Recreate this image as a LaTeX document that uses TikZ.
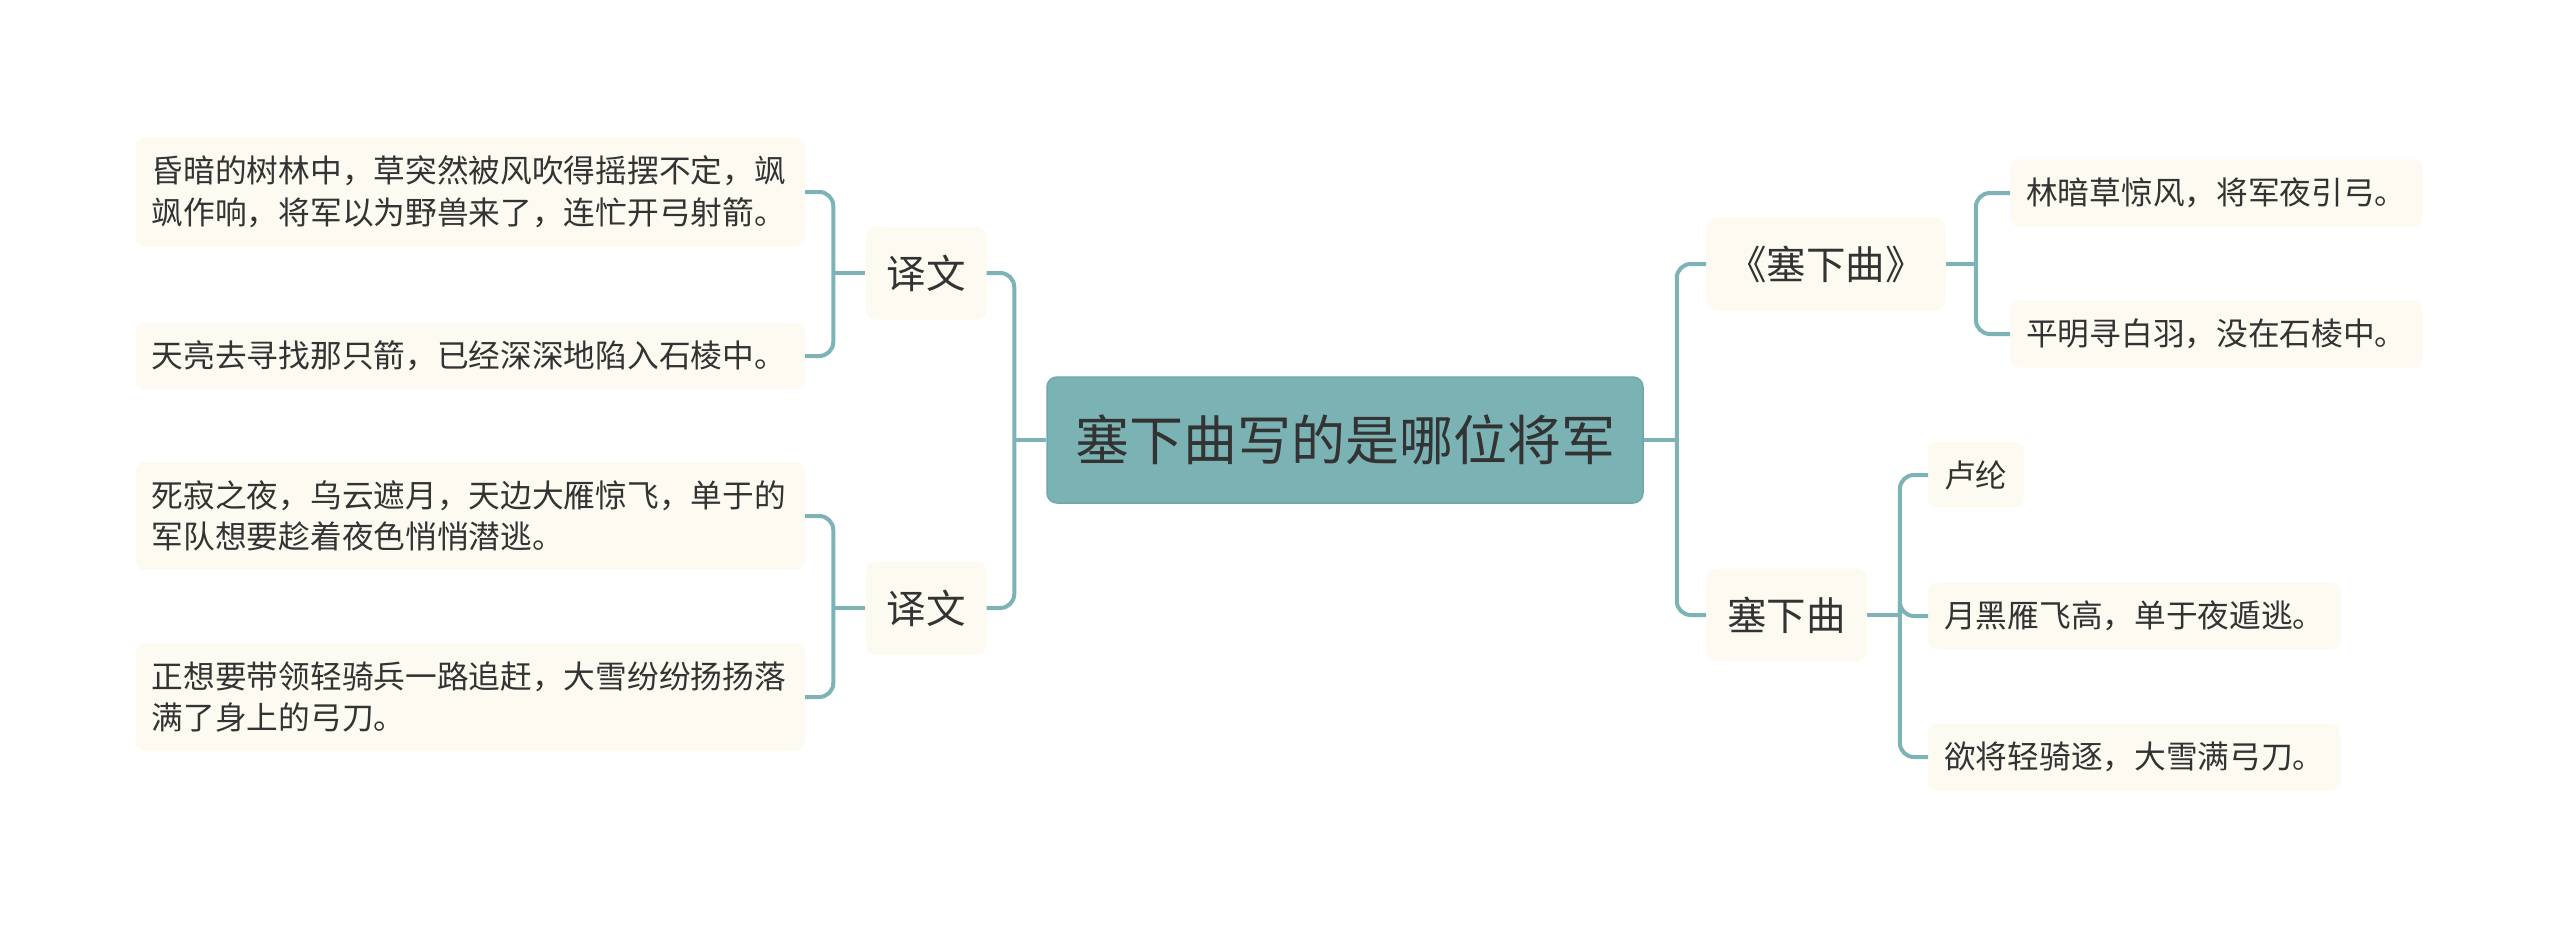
\documentclass[tikz,border=0pt]{standalone}
\usepackage{fontspec}
\setmainfont{Noto Sans CJK SC}
\usetikzlibrary{calc}
\definecolor{linec}{HTML}{7DB3B6}
\definecolor{centc}{HTML}{7BB3B5}
\definecolor{centb}{HTML}{6FA8AA}
\definecolor{leafc}{HTML}{FDFBF1}
\definecolor{txtc}{HTML}{333333}
\begin{document}
\begin{tikzpicture}[x=1pt,y=-1pt,
  centerbox/.style={rounded corners=10pt, fill=centc, draw=centb, line width=1.5pt,
    font=\fontsize{54}{60}\selectfont, text=txtc, minimum height=126pt, inner xsep=28pt},
  midbox/.style={rounded corners=10pt, fill=leafc, font=\fontsize{39.5}{46}\selectfont,
    text=txtc, minimum height=93pt, inner xsep=21pt},
  leafbox/.style={rounded corners=9pt, fill=leafc, font=\fontsize{31.7}{41.5}\selectfont,
    text=txtc, inner xsep=16pt, inner ysep=18.5pt, align=left},
  conn/.style={draw=linec, line width=4pt, rounded corners=14pt}]
\useasboundingbox[fill=white] (0,0) rectangle (2560,931);

\node[centerbox] (c) at (1345,440) {塞下曲写的是哪位将军};

\node[midbox] (y1) at (926,273) {译文};
\node[midbox] (y2) at (926,608) {译文};
\node[midbox, anchor=west] (s1) at (1706,264) {《塞下曲》};
\node[midbox, anchor=west] (s2) at (1706,615) {塞下曲};

\node[leafbox, text width=637pt, anchor=east] (l1) at (805,192) {昏暗的树林中，草突然被风吹得摇摆不定，飒\\飒作响，将军以为野兽来了，连忙开弓射箭。};
\node[leafbox, text width=637pt, anchor=east] (l2) at (805,356) {天亮去寻找那只箭，已经深深地陷入石棱中。};
\node[leafbox, text width=637pt, anchor=east] (l3) at (805,516) {死寂之夜，乌云遮月，天边大雁惊飞，单于的\\军队想要趁着夜色悄悄潜逃。};
\node[leafbox, text width=637pt, anchor=east] (l4) at (805,697) {正想要带领轻骑兵一路追赶，大雪纷纷扬扬落\\满了身上的弓刀。};

\node[leafbox, anchor=west] (r1) at (2010,193) {林暗草惊风，将军夜引弓。};
\node[leafbox, anchor=west] (r2) at (2010,334) {平明寻白羽，没在石棱中。};
\node[leafbox, anchor=west] (r3) at (1928,475) {卢纶};
\node[leafbox, anchor=west] (r4) at (1928,616) {月黑雁飞高，单于夜遁逃。};
\node[leafbox, anchor=west] (r5) at (1928,757) {欲将轻骑逐，大雪满弓刀。};

% center connectors
\coordinate (jl) at ($(c.west)+(-32,0)$);
\coordinate (jr) at ($(c.east)+(33,0)$);
\draw[conn] (c.west) -- (jl);
\draw[conn] (y1.east) -| (jl);
\draw[conn] (y2.east) -| (jl);
\draw[conn] (c.east) -- (jr);
\draw[conn] (s1.west) -| (jr);
\draw[conn] (s2.west) -| (jr);

% left sub-connectors
\coordinate (j1) at ($(y1.west)+(-32,0)$);
\draw[conn] (y1.west) -- (j1);
\draw[conn] (l1.east) -| (j1);
\draw[conn] (l2.east) -| (j1);
\coordinate (j2) at ($(y2.west)+(-32,0)$);
\draw[conn] (y2.west) -- (j2);
\draw[conn] (l3.east) -| (j2);
\draw[conn] (l4.east) -| (j2);

% right sub-connectors
\coordinate (j3) at ($(s1.east)+(30,0)$);
\draw[conn] (s1.east) -- (j3);
\draw[conn] (r1.west) -| (j3);
\draw[conn] (r2.west) -| (j3);
\coordinate (j4) at ($(s2.east)+(33,0)$);
\draw[conn] (s2.east) -- (j4);
\draw[conn] (r3.west) -| (j4);
\draw[conn] (r4.west) -| (j4);
\draw[conn] (r5.west) -| (j4);
\end{tikzpicture}
\end{document}
